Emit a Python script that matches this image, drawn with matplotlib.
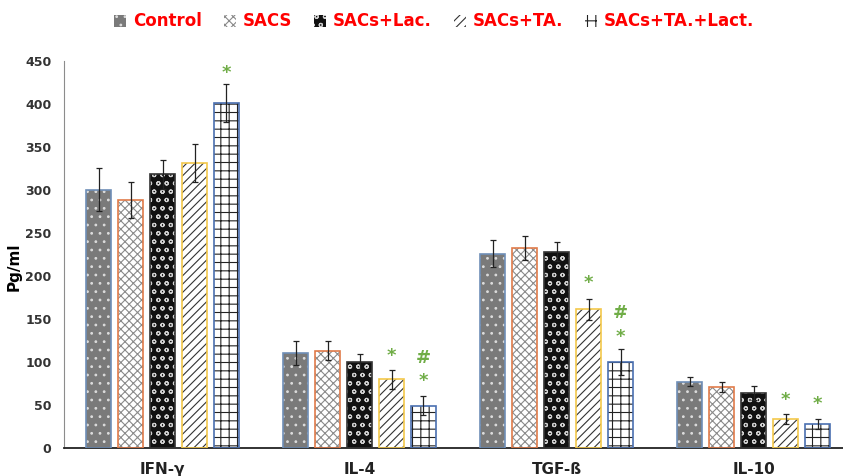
import matplotlib.pyplot as plt
import numpy as np
from matplotlib.patches import Patch

# data
categories = ["IFN-γ", "IL-4", "TGF-ß", "IL-10"]
groups = ["Control", "SACS", "SACs+Lac.", "SACs+TA.", "SACs+TA.+Lact."]
means = {
    "Control":        [300, 110, 226, 77],
    "SACS":           [288, 113, 233, 71],
    "SACs+Lac.":      [318, 100, 228, 64],
    "SACs+TA.":       [331, 80, 161, 34],
    "SACs+TA.+Lact.": [401, 49, 100, 28],
}
errors = {
    "Control":        [25, 14, 16, 5],
    "SACS":           [21, 11, 14, 6],
    "SACs+Lac.":      [17, 9, 11, 8],
    "SACs+TA.":       [22, 11, 12, 6],
    "SACs+TA.+Lact.": [22, 11, 15, 6],
}
# significance marks: (group, category index, y value, text)
marks = [
    ("SACs+TA.+Lact.", 0, 436, "*"),
    ("SACs+TA.", 1, 107, "*"),
    ("SACs+TA.+Lact.", 1, 104, "#"),
    ("SACs+TA.+Lact.", 1, 78, "*"),
    ("SACs+TA.", 2, 192, "*"),
    ("SACs+TA.+Lact.", 2, 157, "#"),
    ("SACs+TA.+Lact.", 2, 129, "*"),
    ("SACs+TA.", 3, 56, "*"),
    ("SACs+TA.+Lact.", 3, 51, "*"),
]

# face, hatch, hatch colour, border colour
styles = {
    "Control":        ("#7a7a7a", "..", "#dcdcdc", "#6f8fb8"),
    "SACS":           ("#ffffff", "xxxx", "#8a8a8a", "#e07b4a"),
    "SACs+Lac.":      ("#111111", "oo", "#d0d0d0", "#333333"),
    "SACs+TA.":       ("#ffffff", "////", "#333333", "#f4c84a"),
    "SACs+TA.+Lact.": ("#ffffff", "++", "#222222", "#4a6fb0"),
}

plt.rcParams['hatch.linewidth'] = 0.8
plt.rcParams['font.family'] = ['DejaVu Sans']

fig = plt.figure(figsize=(8.43, 4.76), dpi=100)
ax = fig.add_axes([0.076, 0.059, 0.935, 0.813])

x = np.arange(len(categories))
step = 0.162
width = 0.127

for i, g in enumerate(groups):
    face, hatch, hcol, ecol = styles[g]
    pos = x + (i - 2) * step
    ax.bar(pos, means[g], width, color=face, hatch=hatch, edgecolor=hcol, linewidth=0, zorder=2)
    ax.bar(pos, means[g], width, fill=False, edgecolor=ecol, linewidth=1.2, zorder=3)
    ax.errorbar(pos, means[g], yerr=errors[g], fmt='none', ecolor='#222222',
                elinewidth=0.9, capsize=2.5, capthick=0.9, zorder=4)

for g, c, yv, t in marks:
    pos = x[c] + (groups.index(g) - 2) * step
    ax.text(pos, yv, t, ha='center', va='center', color='#70ad47',
            fontsize=13, fontweight='bold', zorder=5)

ax.set_xlim(-0.5, len(categories) - 0.5)
ax.set_ylim(0, 450)
ax.set_yticks(np.arange(0, 451, 50))
ax.set_xticks(x)
ax.set_xticklabels(categories, fontsize=11, fontweight='bold', color='#222222')
for lab in ax.get_yticklabels():
    lab.set_fontweight('bold')
    lab.set_fontsize(9)
    lab.set_color('#333333')
ax.tick_params(axis='y', length=0, pad=9)
ax.tick_params(axis='x', length=0, pad=10)
ax.spines['top'].set_visible(False)
ax.spines['right'].set_visible(False)
ax.spines['left'].set_color('#8c8c8c')
ax.spines['left'].set_linewidth(0.8)
ax.spines['bottom'].set_color('#222222')
ax.spines['bottom'].set_linewidth(1.3)
fig.text(0.017, 0.44, "Pg/ml", rotation=90, ha='center', va='center',
         fontsize=11, fontweight='bold')

handles = []
for g in groups:
    face, hatch, hcol, ecol = styles[g]
    handles.append(Patch(facecolor=face, hatch=hatch, edgecolor=hcol, linewidth=0))
leg = fig.legend(handles, groups, loc='center', bbox_to_anchor=(0.515, 0.955),
                 ncol=5, frameon=False, handlelength=0.75, handleheight=0.75,
                 handletextpad=0.4, columnspacing=1.3,
                 prop={'weight': 'bold', 'size': 12})
for t in leg.get_texts():
    t.set_color('#ff0000')

fig.savefig("out.png", dpi=100)
